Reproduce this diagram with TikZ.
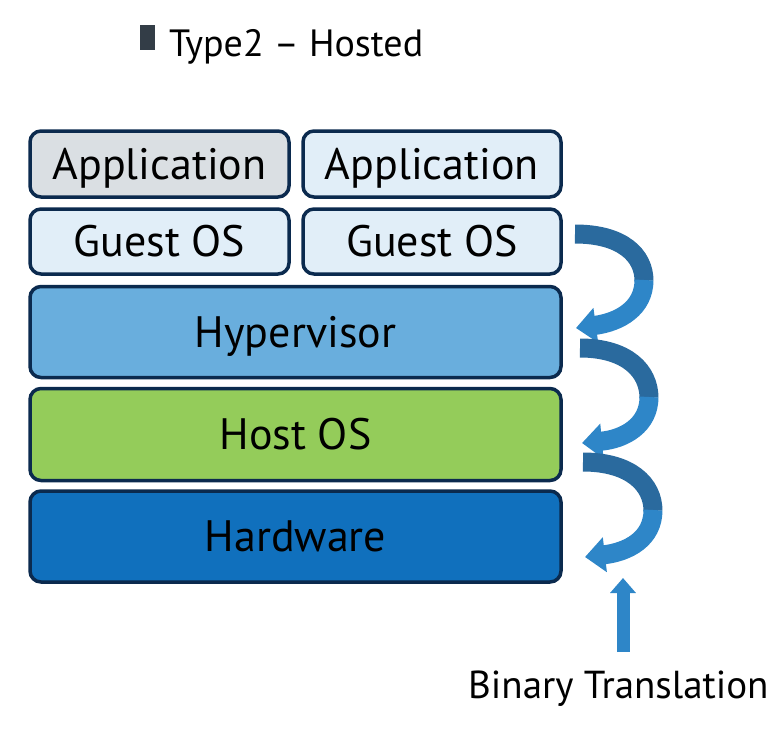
\documentclass[tikz,border=0pt]{standalone}
\usepackage{fontspec}
\setmainfont{PT Sans}
\usetikzlibrary{arrows.meta}
\definecolor{navy}{HTML}{0B2A4E}
\definecolor{appgray}{HTML}{DADFE3}
\definecolor{paleblue}{HTML}{E1EEF8}
\definecolor{hypblue}{HTML}{69AEDD}
\definecolor{hostgreen}{HTML}{94CC5A}
\definecolor{hwblue}{HTML}{1070BD}
\definecolor{sqgray}{HTML}{333D47}
\definecolor{arrdark}{HTML}{2A6A9E}
\definecolor{arrlight}{HTML}{2E86C8}
\tikzset{
  layer/.style={draw=navy, line width=3.5pt, rounded corners=11pt, inner sep=0pt,
    font=\fontsize{44}{50}\selectfont, text=black, text height=30pt, text depth=0pt},
  ribdark/.style={draw=arrdark, line width=19pt},
  riblight/.style={draw=arrlight, line width=19pt, -{Triangle[width=34pt,length=20pt]}},
}
\begin{document}
\begin{tikzpicture}[x=1pt,y=-1pt]
\useasboundingbox (0,0) rectangle (774,732);
% title
\fill[sqgray] (140,25) rectangle (155,50);
\node[anchor=base west, inner sep=0pt, font=\fontsize{38}{44}\selectfont] (title) at (169,56) {Type2 -- Hosted};
% layers
\node[layer, fill=appgray, minimum width=259pt, minimum height=66pt] (app1) at (159.5,164) {Application};
\node[layer, fill=paleblue, minimum width=258pt, minimum height=66pt] (app2) at (432,164) {Application};
\node[layer, fill=paleblue, minimum width=259pt, minimum height=65pt] (guest1) at (159.5,241.5) {Guest OS};
\node[layer, fill=paleblue, minimum width=258pt, minimum height=65pt] (guest2) at (432,241.5) {Guest OS};
\node[layer, fill=hypblue, minimum width=531pt, minimum height=91pt] (hyp) at (295.5,332) {Hypervisor};
\node[layer, fill=hostgreen, minimum width=531pt, minimum height=92pt] (host) at (295.5,434.5) {Host OS};
\node[layer, fill=hwblue, minimum width=531pt, minimum height=91pt] (hw) at (295.5,536.5) {Hardware};
% curved ribbon arrows
\draw[ribdark] (575,234) .. controls (622,234) and (644,255) .. (644,281);
\draw[riblight] (644,280) .. controls (644,308) and (620,322) .. (576,328);
\draw[ribdark] (580,348) .. controls (627,348) and (649,371) .. (649,398);
\draw[riblight] (649,397) .. controls (649,425) and (625,439) .. (582,443);
\draw[ribdark] (583,462) .. controls (630,462) and (653,484) .. (653,511);
\draw[riblight] (653,510) .. controls (653,539) and (628,552) .. (585,557);
% binary translation
\node[anchor=base west, inner sep=0pt, font=\fontsize{39}{44}\selectfont] (bt) at (468,698) {Binary Translation};
\coordinate (btfoot) at (623,652);
\coordinate (bttip) at (623,578);
\draw[arrlight, line width=13pt, -{Triangle[width=25pt,length=15pt]}] (btfoot) -- (bttip);
\end{tikzpicture}
\end{document}
